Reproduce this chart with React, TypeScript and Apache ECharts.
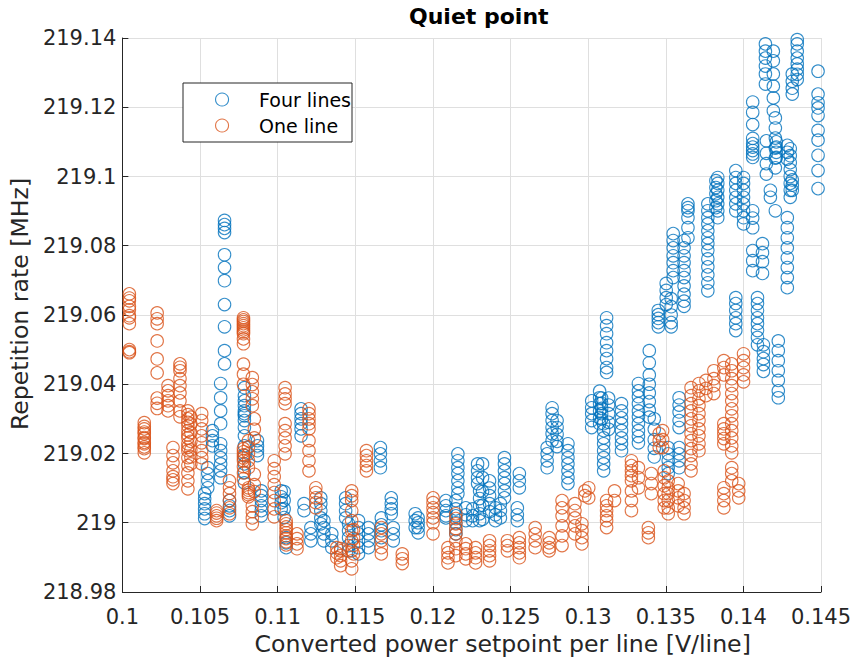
import React, { useEffect, useRef } from 'react';
import * as echarts from 'echarts';

// ---- data ----
const fourLinesX = [
  0.1053, 0.1055, 0.1058, 0.10633, 0.10658, 0.1069, 0.10786, 0.1087, 0.10895, 0.11023,
  0.11042, 0.11055, 0.11151, 0.1117, 0.11214, 0.11278, 0.11298, 0.11349, 0.11438, 0.11457,
  0.11521, 0.11585, 0.11662, 0.11668, 0.11732, 0.11745, 0.11886, 0.11905, 0.12084, 0.12148,
  0.12161, 0.12212, 0.12256, 0.12288, 0.12301, 0.1232, 0.12365, 0.12403, 0.12435, 0.12461,
  0.12544, 0.12557, 0.12736, 0.12768, 0.128, 0.1287, 0.13023, 0.13074, 0.13087, 0.131,
  0.13119, 0.13132, 0.13215, 0.13324, 0.13394, 0.13426, 0.13452, 0.13503, 0.13516, 0.13535,
  0.13548, 0.13586, 0.13618, 0.13643, 0.13771, 0.13823, 0.13835, 0.13951, 0.14001, 0.1406,
  0.14091, 0.14123, 0.14129, 0.14142, 0.14148, 0.14174, 0.14193, 0.14206, 0.14212, 0.14225,
  0.14283, 0.14302, 0.14315, 0.14347, 0.14481,
];
const fourLinesY = [
  [219.0084, 219.0069, 219.0055, 219.004, 219.0026, 219.0012],
  [219.0159, 219.0142, 219.0121, 219.0101],
  [219.0266, 219.0251, 219.0237, 219.0222],
  [219.0228, 219.0208, 219.0188, 219.017, 219.015, 219.013, 219.0402, 219.0361, 219.0323, 219.0286],
  [219.0873, 219.0861, 219.085, 219.0838, 219.0774, 219.0737, 219.0699, 219.063, 219.0566, 219.0497, 219.0459],
  [219.0064, 219.0049, 219.0035, 219.002],
  [219.039, 219.0367, 219.0352, 219.0338, 219.0323, 219.0315, 219.0309, 219.0295, 219.0275, 219.0251, 219.0222, 219.0194, 219.017, 219.0145, 219.0115],
  [219.0237, 219.0222, 219.0208, 219.0194],
  [219.0092, 219.0078, 219.0064, 219.0049, 219.0035, 219.002],
  [219.0092, 219.0075, 219.0058, 219.004],
  [219.009, 219.0065, 219.004, 219.0015],
  [218.9957, 218.9942, 218.9928],
  [219.0329, 219.0315, 219.03, 219.0286, 219.0271, 219.0251],
  [219.0055, 219.0035],
  [218.9986, 218.9968, 218.9948],
  [219.0072, 219.0055, 219.0035, 219.0014, 218.9997],
  [219.0006, 218.9986, 218.9968, 218.9948],
  [218.9968, 218.9948, 218.9928],
  [219.0072, 219.0055, 219.0035, 219.0014],
  [218.9997, 218.9977, 218.9957, 218.9934, 218.9919],
  [219.0006, 218.9986, 218.9968, 218.9948, 218.9928, 218.991],
  [218.9986, 218.9968, 218.9948, 218.9928],
  [219.0217, 219.0199, 219.0179, 219.0159],
  [219.0014, 218.9994, 218.9977, 218.9957],
  [219.0072, 219.0055, 219.004, 219.0026],
  [218.9986, 218.9968, 218.9948],
  [219.0026, 219.0006, 218.9986],
  [219.0014, 219.0, 218.9986, 218.9971],
  [219.0064, 219.0049, 219.0035, 219.002, 219.0014],
  [219.0064, 219.004, 219.002, 219.0, 218.998, 218.9968],
  [219.0199, 219.0179, 219.0159, 219.0142, 219.0121, 219.0101, 219.0084],
  [219.0043, 219.0023, 219.0006],
  [219.004, 219.002, 219.0006],
  [219.017, 219.015, 219.013, 219.0113],
  [219.0092, 219.007, 219.0049, 219.0026, 219.0006],
  [219.017, 219.013, 219.009, 219.005, 219.001],
  [219.0121, 219.01, 219.0078, 219.0055, 219.0032],
  [219.0043, 219.0023, 219.0006],
  [219.0055, 219.0035, 219.0014],
  [219.0188, 219.017, 219.015, 219.013, 219.0113, 219.0092, 219.0072],
  [219.0043, 219.0023, 219.0006],
  [219.0142, 219.0121, 219.0101],
  [219.0217, 219.0199, 219.0179, 219.0159],
  [219.0332, 219.0315, 219.0295, 219.0275, 219.0257, 219.0237],
  [219.0295, 219.0275, 219.0255, 219.0235, 219.022],
  [219.0228, 219.0208, 219.0188, 219.017, 219.015, 219.013, 219.0113],
  [219.0352, 219.0332, 219.0315, 219.0295, 219.0275],
  [219.038, 219.0361, 219.0344, 219.0323, 219.0303, 219.0286],
  [219.036, 219.0345, 219.033, 219.0315, 219.03],
  [219.0286, 219.0266, 219.0245, 219.0228, 219.0208, 219.0188, 219.017, 219.015],
  [219.0592, 219.0569, 219.0546, 219.052, 219.0497, 219.0474, 219.0448, 219.0434],
  [219.036, 219.034, 219.0315, 219.029, 219.027],
  [219.0344, 219.0323, 219.0303, 219.0286, 219.0266, 219.0245, 219.0228, 219.0208],
  [219.0402, 219.0381, 219.0364, 219.0344, 219.0323, 219.0306, 219.0286, 219.0266, 219.0249, 219.0231],
  [219.0497, 219.0462, 219.0427, 219.04, 219.0375, 219.035, 219.0325, 219.0305],
  [219.03, 219.027, 219.024, 219.0215, 219.019],
  [219.0613, 219.0601, 219.059, 219.0578, 219.0566],
  [219.0691, 219.0671, 219.065, 219.063],
  [219.0217, 219.0199, 219.0179, 219.0159, 219.0142],
  [219.0647, 219.0624, 219.06, 219.0578, 219.0566],
  [219.0835, 219.0815, 219.0794, 219.0771, 219.0751, 219.0728, 219.0708],
  [219.0361, 219.034, 219.032, 219.0295, 219.0275, 219.0217, 219.0199, 219.0179, 219.0159],
  [219.0815, 219.0794, 219.0771, 219.0751, 219.0728, 219.0708, 219.0684, 219.066, 219.064, 219.0625],
  [219.0921, 219.091, 219.0901, 219.0881, 219.0852, 219.0823],
  [219.0921, 219.0901, 219.0881, 219.0863, 219.0843, 219.0823, 219.0806, 219.0786, 219.0762, 219.0739, 219.0716, 219.0693, 219.067],
  [219.0988, 219.0968, 219.095, 219.093, 219.091],
  [219.0997, 219.098, 219.096, 219.094, 219.0921, 219.0901, 219.0881],
  [219.1017, 219.0997, 219.098, 219.096, 219.094, 219.0921, 219.0901, 219.065, 219.0633, 219.0613, 219.0592, 219.0575, 219.0555],
  [219.0997, 219.098, 219.096, 219.094, 219.0921, 219.0901, 219.0881, 219.0863],
  [219.0901, 219.088, 219.0852, 219.0786, 219.0757, 219.0728, 219.1215, 219.1185, 219.115, 219.111, 219.1095, 219.1085, 219.1075, 219.1065, 219.1055],
  [219.065, 219.0633, 219.0613, 219.0592, 219.0575, 219.0555, 219.0535, 219.0514],
  [219.0806, 219.078, 219.0754, 219.072],
  [219.0514, 219.0494, 219.0474, 219.0457, 219.0437],
  [219.1383, 219.1362, 219.1342, 219.1319, 219.1296, 219.1267],
  [219.1103, 219.1067, 219.1037, 219.1007],
  [219.096, 219.094],
  [219.1362, 219.1334, 219.1296, 219.1261, 219.1227, 219.119],
  [219.1169, 219.114, 219.1111, 219.1082, 219.1053, 219.1025, 219.0901],
  [219.11, 219.1085, 219.107, 219.1055],
  [219.0525, 219.0497, 219.0468, 219.0439, 219.0411, 219.0381, 219.0361],
  [219.109, 219.107, 219.105, 219.0881, 219.0852, 219.0823, 219.0794, 219.0765, 219.0737, 219.0708, 219.0679],
  [219.108, 219.106, 219.104, 219.102, 219.1, 219.098, 219.096, 219.094],
  [219.099, 219.0975, 219.096, 219.1296, 219.1275, 219.1255, 219.1238],
  [219.1395, 219.1383, 219.1362, 219.1342, 219.1325, 219.131, 219.1295, 219.128],
  [219.1304, 219.1238, 219.1213, 219.1198, 219.1176, 219.1133, 219.1105, 219.1061, 219.1017, 219.0965],
];

const oneLineX = [
  0.10045, 0.10141, 0.10224, 0.10294, 0.10326, 0.10371, 0.10422, 0.10441, 0.10511, 0.10607,
  0.1069, 0.1078, 0.10812, 0.10837, 0.1085, 0.10978, 0.11048, 0.11055, 0.11125, 0.11202,
  0.11246, 0.11381, 0.11406, 0.11477, 0.11489, 0.11572, 0.11668, 0.11803, 0.12001, 0.12097,
  0.12148, 0.12212, 0.12275, 0.12365, 0.1248, 0.12557, 0.12659, 0.12749, 0.12832, 0.12915,
  0.1296, 0.12979, 0.13004, 0.13119, 0.1317, 0.13279, 0.13324, 0.13388, 0.13407, 0.13458,
  0.1348, 0.1349, 0.13516, 0.1358, 0.13618, 0.13663, 0.13714, 0.13759, 0.1381, 0.13874,
  0.13925, 0.1397, 0.14001,
];
const oneLineY = [
  [219.0661, 219.0649, 219.0641, 219.0625, 219.0615, 219.0598, 219.0592, 219.0575, 219.05, 219.0494, 219.0491],
  [219.0289, 219.0278, 219.0271, 219.0262, 219.0257, 219.0246, 219.0243, 219.0232, 219.0228, 219.0219, 219.0214, 219.0202],
  [219.0606, 219.0589, 219.0575, 219.0525, 219.0473, 219.0433, 219.036, 219.0345, 219.033],
  [219.0396, 219.0381, 219.0367, 219.0352, 219.0338, 219.0323],
  [219.0217, 219.0194, 219.0173, 219.015, 219.0133, 219.0124, 219.0113],
  [219.0459, 219.0449, 219.0439, 219.0416, 219.0396, 219.0375, 219.0352, 219.0323, 219.0306],
  [219.0323, 219.0312, 219.03, 219.029, 219.028, 219.0266, 219.0254, 219.0245, 219.0228, 219.0218, 219.0208, 219.0188, 219.0165, 219.0144, 219.0121, 219.0098],
  [219.0305, 219.0285, 219.026, 219.0235, 219.021, 219.019, 219.017],
  [219.0315, 219.0295, 219.0271, 219.0251, 219.0231, 219.0208, 219.0188, 219.017],
  [219.0035, 219.0028, 219.002, 219.0013, 219.0006],
  [219.0121, 219.0101, 219.0084, 219.0064, 219.0043, 219.0026],
  [219.0592, 219.0586, 219.0581, 219.0575, 219.0569, 219.0563, 219.0557, 219.0551, 219.0546, 219.0531, 219.0517, 219.0458, 219.0429, 219.04, 219.0214, 219.0205, 219.0196, 219.0187, 219.0179, 219.0162, 219.0144, 219.0127],
  [219.0237, 219.0219, 219.0199, 219.0179, 219.0159, 219.0101, 219.0094, 219.0087, 219.0081, 219.0075],
  [219.0419, 219.0399, 219.0378, 219.0358, 219.0338, 219.0049, 219.0032, 219.0014, 218.9997],
  [219.03, 219.027, 219.0245, 219.014, 219.011, 219.009],
  [219.0179, 219.0156, 219.0133, 219.011, 219.0087, 219.0064, 219.004, 219.0017],
  [219.039, 219.0372, 219.0358, 219.0344, 219.0286, 219.0266, 219.0245, 219.0222, 219.0199],
  [219.0006, 218.9997, 218.9988, 218.998, 218.9971, 218.9962, 218.9954, 218.9945, 218.9936],
  [218.9968, 218.9954, 218.9939, 218.9925],
  [219.0329, 219.0315, 219.03, 219.0286, 219.0271, 219.0237, 219.0208, 219.0179, 219.015],
  [219.0101, 219.0087, 219.0072, 219.0058, 219.0043],
  [218.9928, 218.9913, 218.9899],
  [218.9925, 218.9919, 218.9905, 218.989, 218.9876],
  [219.0092, 219.0078, 219.0064, 219.0035, 219.0006, 218.9977, 218.9948, 218.9919, 218.989, 218.9867],
  [218.998, 218.9955, 218.9935, 218.991],
  [219.0208, 219.0194, 219.0179, 219.0165, 219.015],
  [218.9986, 218.9968, 218.9948, 218.9928, 218.991],
  [218.991, 218.9896, 218.9882],
  [219.0072, 219.0058, 219.0043, 219.0029, 219.0014, 219.0, 218.9968],
  [218.9928, 218.9913, 218.9899, 218.9884],
  [219.0026, 219.0012, 218.9997, 218.9983, 218.9968, 218.9948, 218.9925, 218.9905],
  [218.9939, 218.9925, 218.991, 218.9896],
  [218.9928, 218.9913, 218.9899, 218.9884],
  [218.9948, 218.9934, 218.9919, 218.9905, 218.989],
  [218.9948, 218.9934, 218.9919],
  [218.9957, 218.9942, 218.9928, 218.9913, 218.9899],
  [218.9986, 218.9968, 218.9948, 218.9928],
  [218.9957, 218.9942, 218.9928, 218.9919],
  [219.0064, 219.0043, 219.002, 218.9991, 218.9962, 218.9934],
  [219.0055, 219.0035, 219.0014, 218.9991, 218.9968],
  [218.9997, 218.9977, 218.9957, 218.9939],
  [219.0092, 219.0078],
  [219.0101, 219.0072],
  [219.0064, 219.0049, 219.0035, 219.002, 219.0006, 218.9986],
  [219.0092, 219.0064],
  [219.0179, 219.0165, 219.015, 219.0136, 219.0121, 219.0092, 219.0064, 219.0035],
  [219.0159, 219.013, 219.0101],
  [218.9986, 218.9971, 218.9957],
  [219.0142, 219.0113, 219.0084],
  [219.0257, 219.0237, 219.0217],
  [219.0266, 219.024, 219.0217],
  [219.015, 219.013, 219.0107, 219.0084, 219.0064, 219.0043],
  [219.0121, 219.0101, 219.0084, 219.0064, 219.0043, 219.0026],
  [219.0113, 219.0092, 219.0072, 219.0049],
  [219.0084, 219.0064, 219.0043, 219.0026],
  [219.039, 219.0367, 219.0344, 219.0323, 219.03, 219.028, 219.0257, 219.0237, 219.0214, 219.0194, 219.017, 219.015],
  [219.0402, 219.0381, 219.0358, 219.0338, 219.0315, 219.0295, 219.0271, 219.0251, 219.0228, 219.0208],
  [219.0411, 219.0388, 219.0367],
  [219.0439, 219.0416, 219.0396, 219.0373],
  [219.0468, 219.0448, 219.0427, 219.0286, 219.0271, 219.0257, 219.0243, 219.0228, 219.0101, 219.0084, 219.0064, 219.0043],
  [219.0459, 219.0439, 219.0416, 219.0396, 219.0373, 219.0352, 219.0329, 219.0309, 219.0286, 219.0266, 219.0245, 219.0222, 219.0202, 219.0159, 219.0142, 219.0121],
  [219.0113, 219.0092, 219.0072],
  [219.0488, 219.0468, 219.0448, 219.0427, 219.0407],
];

const xAxisMin = 0.1;
const xAxisMax = 0.145;
const xAxisStep = 0.005;
const yAxisMin = 218.98;
const yAxisMax = 219.14;
const yAxisStep = 0.02;

const seriesNames = ['Four lines', 'One line'];
const BLUE = '#0072BD';
const ORANGE = '#D95319';
const FONT = 'DejaVu Sans';
const INK = '#262626';

function toPoints(xs: number[], ys: number[][]): number[][] {
  const out: number[][] = [];
  xs.forEach((x, i) => ys[i].forEach((y) => out.push([x, y])));
  return out;
}

export default function App() {
  const ref = useRef<HTMLDivElement>(null);

  useEffect(() => {
    if (!ref.current) return;
    const chart = echarts.init(ref.current, undefined, { renderer: 'svg' });
    const circleStyle = (c: string) => ({ color: 'rgba(0,0,0,0)', borderColor: c, borderWidth: 1.1 });
    chart.setOption({
      animation: false,
      backgroundColor: '#ffffff',
      textStyle: { fontFamily: FONT },
      title: {
        text: 'Quiet point',
        left: 409,
        top: 5,
        padding: 0,
        textStyle: { fontFamily: FONT, fontSize: 22, fontWeight: 'bold', color: '#000000' },
      },
      legend: {
        orient: 'vertical',
        left: 183,
        top: 83,
        padding: [7, 1, 7, 32],
        itemWidth: 64,
        itemHeight: 13,
        itemGap: 7,
        selectedMode: false,
        backgroundColor: '#ffffff',
        borderColor: INK,
        borderWidth: 1,
        borderRadius: 0,
        textStyle: { fontFamily: FONT, fontSize: 19, color: '#000000' },
        data: [
          { name: seriesNames[0], icon: 'circle', itemStyle: circleStyle(BLUE) },
          { name: seriesNames[1], icon: 'circle', itemStyle: circleStyle(ORANGE) },
        ],
      },
      grid: { left: 117, right: 35, top: 38, bottom: 72, containLabel: false },
      xAxis: {
        type: 'value',
        min: xAxisMin,
        max: xAxisMax,
        interval: xAxisStep,
        name: 'Converted power setpoint per line [V/line]',
        nameLocation: 'middle',
        nameGap: 40,
        nameTextStyle: { fontFamily: FONT, fontSize: 23.6, color: INK, padding: [0, 0, 0, 62] },
        axisLine: { show: true, onZero: false, lineStyle: { color: INK, width: 1 } },
        axisTick: { show: true, inside: true, length: 6, lineStyle: { color: INK } },
        axisLabel: { fontFamily: FONT, fontSize: 21, color: INK, margin: 14 },
        splitLine: { show: true, lineStyle: { color: '#dfdfdf', width: 1 } },
      },
      yAxis: {
        type: 'value',
        min: yAxisMin,
        max: yAxisMax,
        interval: yAxisStep,
        name: 'Repetition rate [MHz]',
        nameLocation: 'middle',
        nameGap: 83,
        nameTextStyle: { fontFamily: FONT, fontSize: 23.6, color: INK, padding: [0, 0, 0, 22] },
        axisLine: { show: true, onZero: false, lineStyle: { color: INK, width: 1 } },
        axisTick: { show: true, inside: true, length: 6, lineStyle: { color: INK } },
        axisLabel: { fontFamily: FONT, fontSize: 21, color: INK, margin: 6 },
        splitLine: { show: true, lineStyle: { color: '#dfdfdf', width: 1 } },
      },
      series: [
        {
          name: seriesNames[0],
          type: 'scatter',
          data: toPoints(fourLinesX, fourLinesY),
          symbol: 'circle',
          symbolSize: 12.5,
          itemStyle: circleStyle(BLUE),
          silent: true,
          progressive: 0,
          clip: false,
        },
        {
          name: seriesNames[1],
          type: 'scatter',
          data: toPoints(oneLineX, oneLineY),
          symbol: 'circle',
          symbolSize: 12.5,
          itemStyle: circleStyle(ORANGE),
          silent: true,
          progressive: 0,
          clip: false,
        },
      ],
    });
    return () => chart.dispose();
  }, []);

  return (
    <div
      ref={ref}
      style={{ position: 'fixed', left: 0, top: 0, width: 856, height: 664, background: '#fff' }}
    />
  );
}
